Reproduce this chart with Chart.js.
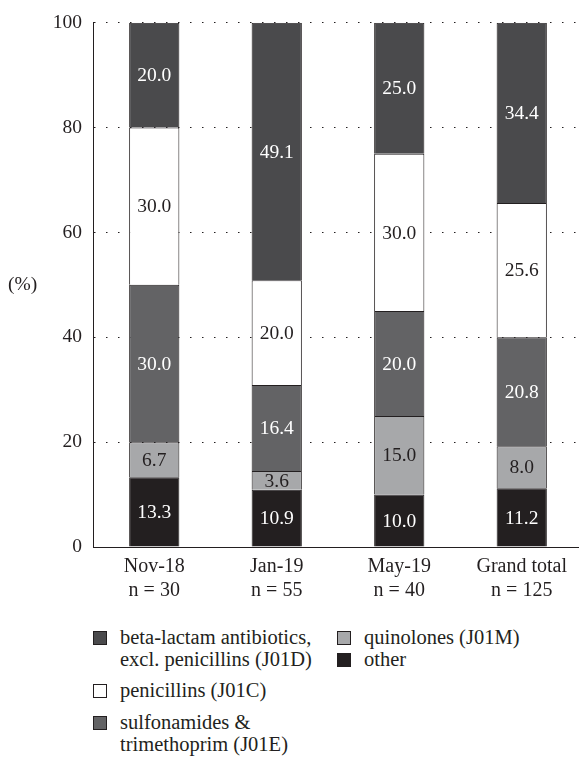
<!DOCTYPE html>
<html>
<head>
<meta charset="utf-8">
<script src="https://cdn.jsdelivr.net/npm/chart.js@4.4.0/dist/chart.umd.min.js"></script>
<style>
  html, body { margin:0; padding:0; background:#fff; width:579px; height:757px; overflow:hidden; }
  #wrap { position:absolute; left:0; top:0; width:583px; height:603px; }
  .leg { position:absolute; font-family:"Liberation Serif", "Times New Roman", serif; font-size:20.5px; color:#231f20; line-height:22px; white-space:nowrap; }
  .sw { position:absolute; width:12px; height:12px; border:1px solid #231f20; }
</style>
</head>
<body>
<div id="wrap"><canvas id="c"></canvas></div>
<div id="legend"></div>
<script>
const categories = [["Nov-18","n = 30"],["Jan-19","n = 55"],["May-19","n = 40"],["Grand total","n = 125"]];
const seriesNames = ["other","quinolones (J01M)","sulfonamides & trimethoprim (J01E)","penicillins (J01C)","beta-lactam antibiotics, excl. penicillins (J01D)"];
const other       = [13.3, 10.9, 10.0, 11.2];
const quinolones  = [6.7, 3.6, 15.0, 8.0];
const sulfonamides= [30.0, 16.4, 20.0, 20.8];
const penicillins = [30.0, 20.0, 30.0, 25.6];
const betaLactam  = [20.0, 49.1, 25.0, 34.4];
const yTicks = [0, 20, 40, 60, 80, 100];

const colors = ["#231f20", "#a7a8aa", "#636365", "#ffffff", "#4a4a4c"];
const labelColors = ["#ffffff", "#231f20", "#ffffff", "#231f20", "#ffffff"];
const seriesData = [other, quinolones, sulfonamides, penicillins, betaLactam];
const FONT = "'Liberation Serif', serif";

const datasets = seriesData.map((d, i) => ({
  label: seriesNames[i],
  data: d,
  backgroundColor: colors[i],
  borderColor: "#231f20",
  borderWidth: 1,
  categoryPercentage: 1,
  barPercentage: 0.41
}));

const valueLabels = {
  id: "valueLabels",
  afterDatasetsDraw(chart) {
    const ctx = chart.ctx;
    ctx.save();
    ctx.font = "19.5px " + FONT;
    ctx.textAlign = "center";
    ctx.textBaseline = "middle";
    chart.data.datasets.forEach((ds, i) => {
      const meta = chart.getDatasetMeta(i);
      meta.data.forEach((el, j) => {
        const v = ds.data[j];
        ctx.fillStyle = labelColors[i];
        ctx.fillText(v.toFixed(1), el.x, (el.y + el.base) / 2 + 1);
      });
    });
    ctx.restore();
  }
};

const yTitle = {
  id: "yTitle",
  afterDraw(chart) {
    const ctx = chart.ctx, a = chart.chartArea;
    ctx.save();
    ctx.font = "19.5px " + FONT;
    ctx.fillStyle = "#231f20";
    ctx.textAlign = "left";
    ctx.textBaseline = "middle";
    ctx.fillText("(%)", 8, (a.top + a.bottom) / 2);
    ctx.restore();
  }
};

new Chart(document.getElementById("c"), {
  type: "bar",
  data: { labels: categories, datasets },
  options: {
    responsive: true,
    maintainAspectRatio: false,
    animation: false,
    layout: { padding: { top: 8, right: 0, left: 0, bottom: 0 } },
    plugins: { legend: { display: false }, tooltip: { enabled: false } },
    scales: {
      x: {
        stacked: true,
        grid: { display: false },
        border: { display: true, color: "#231f20", width: 1 },
        ticks: { color: "#231f20", font: { family: FONT, size: 20, lineHeight: 1.2 }, padding: 0, maxRotation: 0 }
      },
      y: {
        stacked: true,
        min: 0, max: 100,
        afterFit(s) { s.width = 93; },
        afterBuildTicks(s) { s.ticks = yTicks.map(v => ({ value: v })); },
        grid: { color: "#231f20", lineWidth: 1, drawTicks: false },
        border: { display: true, color: "#231f20", width: 1, dash: [1.5, 10.5] },
        ticks: { color: "#231f20", font: { family: FONT, size: 19.5 }, padding: 11 }
      }
    }
  },
  plugins: [valueLabels, yTitle]
});

// custom legend
const legendItems = [
  { idx: 4, lines: ["beta-lactam antibiotics,", "excl. penicillins (J01D)"], x: 93, y: 626 },
  { idx: 3, lines: ["penicillins (J01C)"], x: 93, y: 679 },
  { idx: 2, lines: ["sulfonamides &", "trimethoprim (J01E)"], x: 93, y: 711 },
  { idx: 1, lines: ["quinolones (J01M)"], x: 337, y: 626 },
  { idx: 0, lines: ["other"], x: 337, y: 648 }
];
const legEl = document.getElementById("legend");
legendItems.forEach(it => {
  const sw = document.createElement("div");
  sw.className = "sw";
  sw.style.left = it.x + "px";
  sw.style.top = (it.y + 5) + "px";
  sw.style.background = colors[it.idx];
  legEl.appendChild(sw);
  const t = document.createElement("div");
  t.className = "leg";
  t.style.left = (it.x + 27) + "px";
  t.style.top = it.y + "px";
  t.innerHTML = it.lines.map(l => l.replace(/&/g, "&amp;")).join("<br>");
  legEl.appendChild(t);
});
</script>
</body>
</html>
